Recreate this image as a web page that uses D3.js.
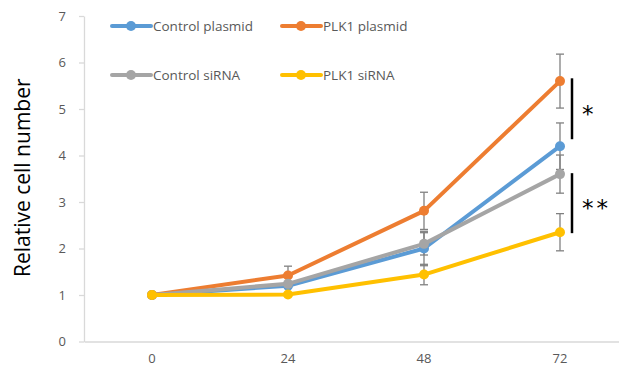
<!DOCTYPE html>
<html>
<head>
<meta charset="utf-8">
<script src="https://cdn.jsdelivr.net/npm/d3@7"></script>
<style>
  html, body { margin: 0; padding: 0; background: #fff; }
  svg { display: block; font-family: "Open Sans", sans-serif; }
</style>
</head>
<body>
<svg id="chart" width="619" height="372"></svg>
<script>
// Time points (hours)
const hours = ["0", "24", "48", "72"];
const yTicks = [0, 1, 2, 3, 4, 5, 6, 7];

// Relative cell number, mean and error for each group
const seriesNames = ["Control plasmid", "PLK1 plasmid", "Control siRNA", "PLK1 siRNA"];
const controlPlasmid = [1, 1.2, 2.0, 4.2];
const plk1Plasmid = [1, 1.42, 2.81, 5.6];
const controlSirna = [1, 1.24, 2.1, 3.6];
const plk1Sirna = [1, 1.01, 1.44, 2.35];
const controlPlasmidErr = [0, 0.05, 0.37, 0.5];
const plk1PlasmidErr = [0, 0.2, 0.4, 0.58];
const controlSirnaErr = [0, 0.05, 0.24, 0.41];
const plk1SirnaErr = [0, 0.03, 0.22, 0.4];
const seriesColors = ["#5B9BD5", "#ED7D31", "#A5A5A5", "#FFC000"];

// Significance brackets at 72 h: from value, to value, label
const bracketFrom = [5.66, 3.62];
const bracketTo = [4.35, 2.33];
const bracketLabels = ["*", "**"];

const series = seriesNames.map((name, i) => ({
  name,
  color: seriesColors[i],
  values: [controlPlasmid, plk1Plasmid, controlSirna, plk1Sirna][i],
  errors: [controlPlasmidErr, plk1PlasmidErr, controlSirnaErr, plk1SirnaErr][i]
}));

const svg = d3.select("#chart");
const plotLeft = 84, plotTop = 16, plotBottom = 341.5;

const x = d3.scaleBand().domain(hours).range([plotLeft, plotLeft + 136 * 4]);
const y = d3.scaleLinear().domain([0, 7]).range([plotBottom, plotTop]);
const cx = d => x(d) + x.bandwidth() / 2;

const axisColor = "#d9d9d9";
const textColor = "#595959";

// Y axis
const yAxis = svg.append("g")
  .attr("transform", `translate(${plotLeft},0)`)
  .call(d3.axisLeft(y).tickValues(yTicks).tickFormat(d3.format("d"))
    .tickSize(5).tickSizeOuter(0).tickPadding(13));
yAxis.select(".domain").attr("stroke", axisColor).attr("stroke-width", 1.3);
yAxis.selectAll(".tick line").attr("stroke", axisColor).attr("stroke-width", 1.3);
yAxis.selectAll(".tick text").attr("fill", textColor)
  .style("font-size", "13px").style("font-family", "Open Sans, sans-serif");

// X axis
const xAxis = svg.append("g")
  .attr("transform", `translate(0,${plotBottom})`)
  .call(d3.axisBottom(x).tickSize(0).tickSizeOuter(0).tickPadding(12));
xAxis.select(".domain").attr("stroke", axisColor).attr("stroke-width", 1.3);
xAxis.selectAll(".tick text").attr("fill", textColor)
  .style("font-size", "13px").style("font-family", "Open Sans, sans-serif");

// Y axis title
svg.append("text")
  .attr("transform", `translate(30,${(plotTop + plotBottom) / 2 - 1}) rotate(-90)`)
  .attr("text-anchor", "middle")
  .attr("fill", "#000")
  .style("font-size", "21px")
  .text("Relative cell number");

const line = d3.line().x((d, i) => cx(hours[i])).y(d => y(d));

// Error bars
const errG = svg.append("g");
series.forEach(s => {
  s.values.forEach((v, i) => {
    const e = s.errors[i];
    if (e <= 0) return;
    const px = cx(hours[i]);
    errG.append("line").attr("x1", px).attr("x2", px)
      .attr("y1", y(v + e)).attr("y2", y(v - e))
      .attr("stroke", "#808080").attr("stroke-width", 1.3);
    [v + e, v - e].forEach(t => {
      errG.append("line").attr("x1", px - 4).attr("x2", px + 4)
        .attr("y1", y(t)).attr("y2", y(t))
        .attr("stroke", "#808080").attr("stroke-width", 1.3);
    });
  });
});

// Lines and markers
series.forEach(s => {
  svg.append("path")
    .datum(s.values)
    .attr("d", line)
    .attr("fill", "none")
    .attr("stroke", s.color)
    .attr("stroke-width", 4)
    .attr("stroke-linejoin", "round");
  svg.append("g").selectAll("circle")
    .data(s.values)
    .join("circle")
    .attr("cx", (d, i) => cx(hours[i]))
    .attr("cy", d => y(d))
    .attr("r", 5)
    .attr("fill", s.color);
});

// Legend
const legendPos = [[112, 26], [282, 26], [112, 75], [282, 75]];
series.forEach((s, i) => {
  const [lx, ly] = legendPos[i];
  const g = svg.append("g").attr("transform", `translate(${lx},${ly})`);
  g.append("line").attr("x1", 0).attr("x2", 39).attr("y1", 0).attr("y2", 0)
    .attr("stroke", s.color).attr("stroke-width", 4).attr("stroke-linecap", "round");
  g.append("circle").attr("cx", 19).attr("cy", 0).attr("r", 5).attr("fill", s.color);
  g.append("text").attr("x", 41).attr("y", 0).attr("dy", "0.35em")
    .attr("fill", textColor).style("font-size", "13.5px").text(s.name);
});

// Significance brackets
const bx = 572;
bracketFrom.forEach((f, i) => {
  svg.append("line").attr("x1", bx).attr("x2", bx)
    .attr("y1", y(f)).attr("y2", y(bracketTo[i]))
    .attr("stroke", "#000").attr("stroke-width", 2.5);
  svg.append("text")
    .attr("x", bx + 10).attr("y", (y(f) + y(bracketTo[i])) / 2 + 13)
    .attr("fill", "#000")
    .attr("letter-spacing", "3px")
    .style("font-size", "23px")
    .style("font-family", "DejaVu Sans, sans-serif")
    .text(bracketLabels[i]);
});
</script>
</body>
</html>
